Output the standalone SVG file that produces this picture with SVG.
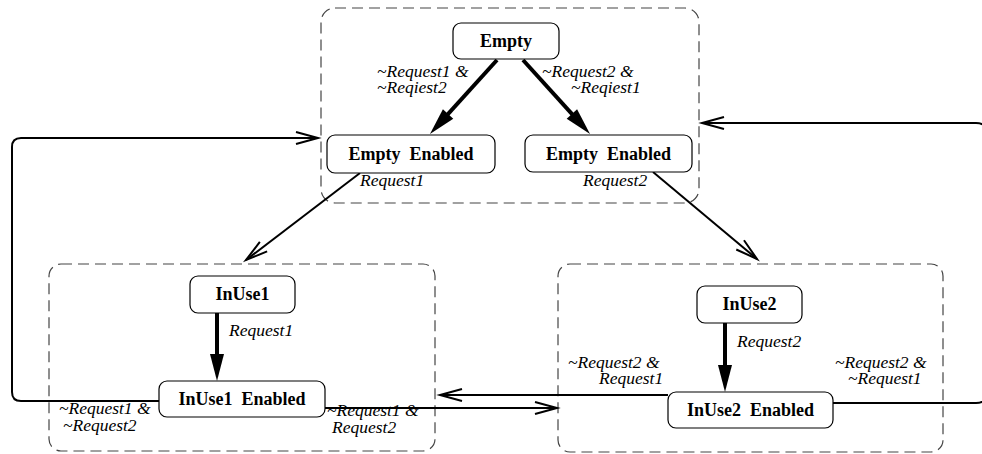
<svg xmlns="http://www.w3.org/2000/svg" width="982" height="454" viewBox="0 0 982 454">
<style>
.cluster{fill:none;stroke:#444;stroke-width:1.2;stroke-dasharray:11 6}
.node rect{fill:#fff;stroke:#000;stroke-width:1.2}
.node text{font-family:"Liberation Serif","Times New Roman",serif;font-weight:bold;font-size:18px;text-anchor:middle;fill:#000}
.lbl{font-family:"Liberation Serif","Times New Roman",serif;font-style:italic;font-size:17.5px;fill:#000}
.thick{fill:none;stroke:#000;stroke-width:4}
.thin{fill:none;stroke:#000;stroke-width:2}
</style>
<defs>
<marker id="headThick" markerUnits="userSpaceOnUse" viewBox="-30 -10 32 20" markerWidth="32" markerHeight="20" refX="-20" refY="0" orient="auto" overflow="visible">
<path d="M0,0 L-27,-7 L-27,7 Z" fill="#000"/>
</marker>
<marker id="headOpen" markerUnits="userSpaceOnUse" viewBox="-26 -10 30 20" markerWidth="30" markerHeight="20" refX="0" refY="0" orient="auto" overflow="visible">
<path d="M-22,-6 L0,0 L-22,6" fill="none" stroke="#000" stroke-width="2"/>
</marker>
</defs>

<g id="clusters">
<rect id="cluster-empty" class="cluster" x="321" y="8" width="378" height="195" rx="14"/>
<rect id="cluster-inuse1" class="cluster" x="49" y="264" width="386" height="187" rx="12"/>
<rect id="cluster-inuse2" class="cluster" x="558" y="264" width="385" height="188" rx="12"/>
</g>

<g id="connectors">
<path class="thick" d="M497,60 L443.4,119.2" marker-end="url(#headThick)"/>
<path class="thick" d="M523,60 L576.6,119.2" marker-end="url(#headThick)"/>
<path class="thick" d="M217,313 L217,361" marker-end="url(#headThick)"/>
<path class="thick" d="M725,323 L725,372" marker-end="url(#headThick)"/>
<path class="thin" d="M360,173 L246,260" marker-end="url(#headOpen)"/>
<path class="thin" d="M653,172 L757,259" marker-end="url(#headOpen)"/>
<path class="thin" d="M159,401 H21 Q12,401 12,392 V147 Q12,138 21,138 H318" marker-end="url(#headOpen)"/>
<path class="thin" d="M833,403 H976 Q988,403 988,391 V135 Q988,123 976,123 H702" marker-end="url(#headOpen)"/>
<path class="thin" d="M668,395 H440" marker-end="url(#headOpen)"/>
<path class="thin" d="M325,408 H557" marker-end="url(#headOpen)"/>
</g>

<g id="node-empty" class="node">
<rect x="453" y="23" width="106" height="36" rx="8"/>
<text x="506" y="47">Empty</text>
</g>
<g id="node-empty-enabled-1" class="node">
<rect x="327" y="135" width="168" height="38" rx="8"/>
<text x="411" y="160" xml:space="preserve">Empty  Enabled</text>
</g>
<g id="node-empty-enabled-2" class="node">
<rect x="525" y="135" width="167" height="37" rx="8"/>
<text x="608.5" y="160" xml:space="preserve">Empty  Enabled</text>
</g>
<g id="node-inuse1" class="node">
<rect x="190" y="276" width="105" height="37" rx="8"/>
<text x="242.5" y="300">InUse1</text>
</g>
<g id="node-inuse1-enabled" class="node">
<rect x="159" y="381" width="166" height="36" rx="8"/>
<text x="242" y="405" xml:space="preserve">InUse1  Enabled</text>
</g>
<g id="node-inuse2" class="node">
<rect x="697" y="286" width="105" height="37" rx="8"/>
<text x="749.5" y="310">InUse2</text>
</g>
<g id="node-inuse2-enabled" class="node">
<rect x="668" y="392" width="165" height="36" rx="8"/>
<text x="750.5" y="416" xml:space="preserve">InUse2  Enabled</text>
</g>

<g id="labels">
<text class="lbl" x="377" y="77">~Request1 &amp;</text>
<text class="lbl" x="377" y="93">~Reqiest2</text>
<text class="lbl" x="542" y="77">~Request2 &amp;</text>
<text class="lbl" x="571" y="93">~Reqiest1</text>
<text class="lbl" x="360" y="186">Request1</text>
<text class="lbl" x="583" y="186">Request2</text>
<text class="lbl" x="229" y="336">Request1</text>
<text class="lbl" x="59" y="414">~Request1 &amp;</text>
<text class="lbl" x="63" y="431">~Request2</text>
<text class="lbl" x="327" y="416">~Request1 &amp;</text>
<text class="lbl" x="332" y="433">Request2</text>
<text class="lbl" x="737" y="347">Request2</text>
<text class="lbl" x="568" y="368">~Request2 &amp;</text>
<text class="lbl" x="599" y="384">Request1</text>
<text class="lbl" x="835" y="368">~Request2 &amp;</text>
<text class="lbl" x="848" y="384">~Request1</text>
</g>
</svg>
